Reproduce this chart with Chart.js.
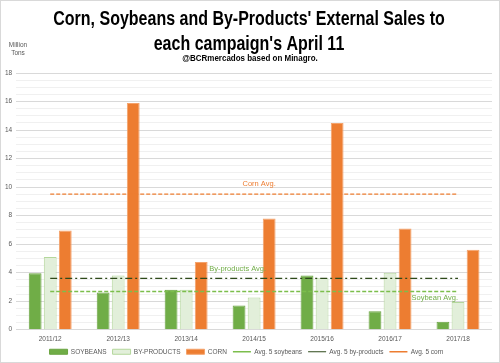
<!DOCTYPE html>
<html>
<head>
<meta charset="utf-8">
<script src="https://cdn.jsdelivr.net/npm/chart.js@4.4.0/dist/chart.umd.min.js"></script>
<style>
html, body { margin: 0; padding: 0; background: #fff; }
#wrap { width: 500px; height: 363px; box-sizing: border-box; border: 1px solid #d9d9d9; position: relative; }
</style>
</head>
<body>
<div id="wrap"><canvas id="chart"></canvas></div>
<script>
// --- DATA ---
const campaigns = ['2011/12', '2012/13', '2013/14', '2014/15', '2015/16', '2016/17', '2017/18'];
const soybeans = [3.95, 2.6, 2.8, 1.7, 3.8, 1.3, 0.55];
const byProducts = [5.1, 3.8, 2.8, 2.25, 3.6, 4.0, 1.95];
const corn = [6.95, 15.9, 4.75, 7.8, 14.5, 7.1, 5.6];
const avgSoybeans = [2.68, 2.68, 2.68, 2.68, 2.68, 2.68, 2.68];
const avgByProducts = [3.6, 3.6, 3.6, 3.6, 3.6, 3.6, 3.6];
const avgCorn = [9.5, 9.5, 9.5, 9.5, 9.5, 9.5, 9.5];
const yMax = 18;
const yMajor = 2;

const titleLines = ['Corn, Soybeans and By-Products\' External Sales to', 'each campaign\'s April 11'];
const subtitle = '@BCRmercados based on Minagro.';
const unitLines = ['Million', 'Tons'];

const FONT = '"Liberation Sans", Arial, sans-serif';
const GREY = '#595959';

// --- TEXT PLUGIN (title, unit, avg labels) ---
const textPlugin = {
    id: 'texts',
    afterDraw(chart) {
        const c = chart.ctx;
        const xs = chart.scales.x, ys = chart.scales.y;
        const mid = 248;
        c.save();
        c.textAlign = 'center';
        c.textBaseline = 'alphabetic';
        c.fillStyle = '#000';
        // title, squeezed so it looks condensed
        c.font = 'bold 20px ' + FONT;
        titleLines.forEach((t, i) => {
            c.save();
            c.translate(mid, 24 + i * 25);
            c.scale(0.8, 1);
            c.fillText(t, 0, 0);
            c.restore();
        });
        c.save();
        c.font = 'bold 9.5px ' + FONT;
        c.translate(mid + 1, 60);
        c.scale(0.84, 1);
        c.fillText(subtitle, 0, 0);
        c.restore();
        // unit label
        c.font = '6.5px ' + FONT;
        c.fillStyle = GREY;
        unitLines.forEach((t, i) => c.fillText(t, 17, 46 + i * 8));
        // average labels
        const avgLabels = [
            { text: 'Corn Avg.', data: avgCorn, at: 3, dx: 5, dy: -10, align: 'center', color: '#ED7D31' },
            { text: 'By-products Avg.', data: avgByProducts, at: 2, dx: 23, dy: -9, align: 'left', color: '#70AD47' },
            { text: 'Soybean Avg.', data: avgSoybeans, at: 6, dx: 0, dy: 6, align: 'right', color: '#70AD47' }
        ];
        c.font = '7.5px ' + FONT;
        c.textBaseline = 'middle';
        avgLabels.forEach(a => {
            c.fillStyle = a.color;
            c.textAlign = a.align;
            c.fillText(a.text, xs.getPixelForValue(a.at) + a.dx, ys.getPixelForValue(a.data[a.at]) + a.dy);
        });
        c.restore();
    }
};

const ctx = document.getElementById('chart').getContext('2d');
new Chart(ctx, {
    type: 'bar',
    data: {
        labels: campaigns,
        datasets: [
            { label: 'SOYBEANS', data: soybeans, backgroundColor: '#70AD47', borderColor: '#6AA441', borderWidth: 1, order: 1 },
            { label: 'BY-PRODUCTS', data: byProducts, backgroundColor: '#E2EFDA', borderColor: '#B4D79C', borderWidth: 1, order: 1 },
            { label: 'CORN', data: corn, backgroundColor: '#ED7D31', borderColor: '#F4A26B', borderWidth: 1, order: 1 },
            { type: 'line', label: 'Avg. 5 soybeans', data: avgSoybeans, borderColor: '#7CBE4C', borderWidth: 1.3, borderDash: [4, 2], pointRadius: 0, fill: false, order: 0 },
            { type: 'line', label: 'Avg. 5 by-products', data: avgByProducts, borderColor: '#2E4A1A', borderWidth: 1.2, borderDash: [7, 3, 2, 3], pointRadius: 0, fill: false, order: 0 },
            { type: 'line', label: 'Avg. 5 corn', data: avgCorn, borderColor: '#ED7D31', borderWidth: 1.3, borderDash: [4, 2], pointRadius: 0, fill: false, order: 0 }
        ]
    },
    options: {
        responsive: true,
        maintainAspectRatio: false,
        animation: false,
        layout: { padding: { top: 72, left: 0, right: 7, bottom: -3 } },
        datasets: { bar: { categoryPercentage: 0.665, barPercentage: 0.85 } },
        scales: {
            x: {
                grid: { display: false, drawTicks: false },
                border: { display: false },
                ticks: { color: GREY, font: { family: FONT, size: 6.5 }, padding: 6, maxRotation: 0 },
                afterFit: s => { s.height -= 7; }
            },
            y: {
                min: 0, max: yMax,
                border: { display: false },
                grid: {
                    color: c => (c.tick.value % yMajor === 0 ? '#d9d9d9' : '#f0f0f0'),
                    drawTicks: false
                },
                ticks: {
                    stepSize: 0.5,
                    autoSkip: false,
                    padding: 4,
                    color: GREY,
                    font: { family: FONT, size: 6.5 },
                    callback: v => (v % yMajor === 0 ? v : '')
                }
            }
        },
        plugins: {
            title: { display: false },
            tooltip: { enabled: false },
            legend: {
                position: 'bottom',
                labels: {
                    color: GREY,
                    font: { family: FONT, size: 6.5 },
                    usePointStyle: true,
                    pointStyleWidth: 18,
                    boxHeight: 5,
                    padding: 6,
                    sort: (a, b) => a.datasetIndex - b.datasetIndex,
                    generateLabels(chart) {
                        const items = Chart.defaults.plugins.legend.labels.generateLabels(chart);
                        items.forEach(it => {
                            const ds = chart.data.datasets[it.datasetIndex];
                            it.pointStyle = ds.type === 'line' ? 'line' : 'rect';
                        });
                        return items;
                    }
                }
            }
        }
    },
    plugins: [textPlugin]
});
</script>
</body>
</html>
